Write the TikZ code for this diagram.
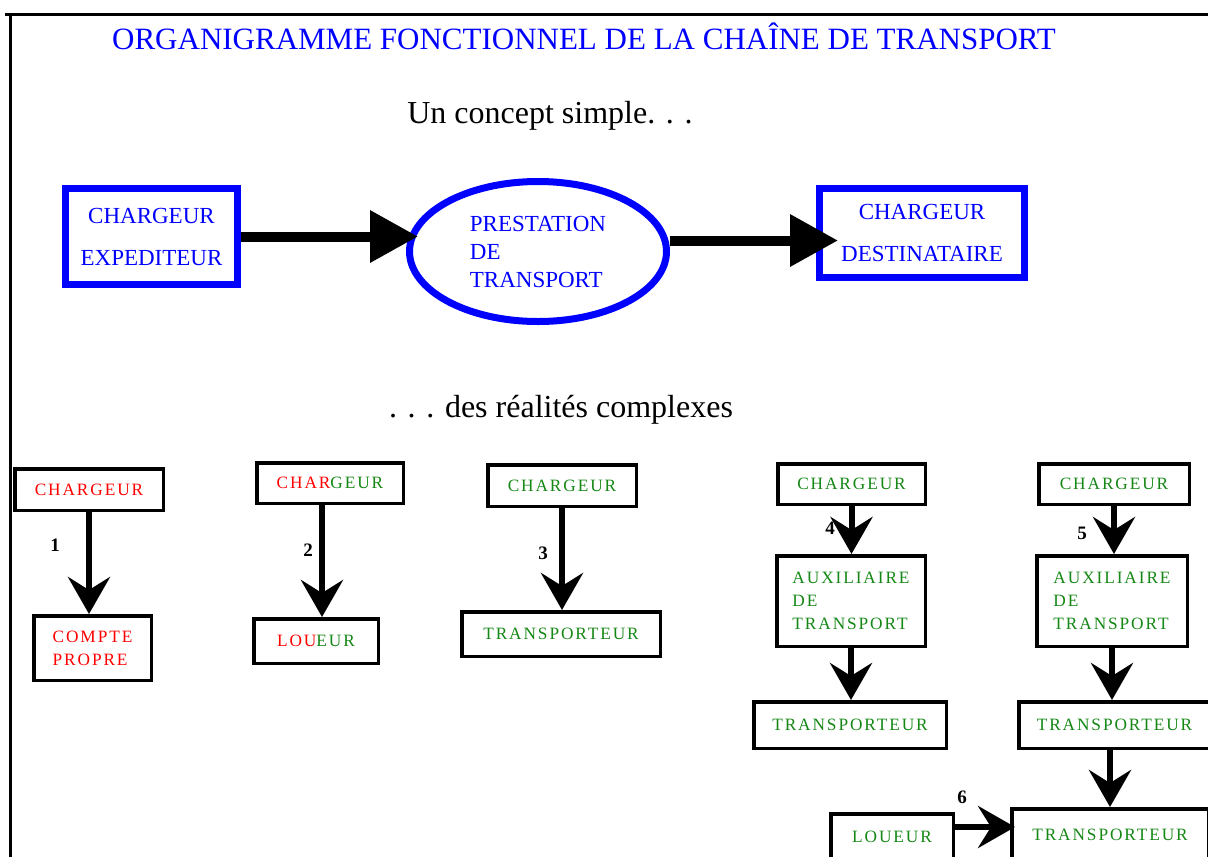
\documentclass[tikz,border=0pt]{standalone}
\usepackage{fontspec}
\setmainfont{Liberation Serif}
\newfontfamily\spacedfont[LetterSpace=11]{Liberation Serif}
\usetikzlibrary{arrows.meta, shapes, positioning}
\definecolor{boxgreen}{RGB}{20,135,20}

\begin{document}
\begin{tikzpicture}[x=1pt, y=-1pt,
	bluebox/.style={draw=blue, line width=7pt, inner sep=0pt, text=blue, align=center, font=\fontsize{23}{42}\selectfont},
	blackbox/.style={draw=black, line width=3.5pt, inner sep=0pt, text=boxgreen, font=\spacedfont\fontsize{17.3}{23}\selectfont},
	bigarrow/.style={line width=10pt, -{Triangle[length=48pt, width=50pt]}},
	downarrow/.style={line width=6pt, -{Stealth[length=37pt, width=42pt, inset=13pt]}},
	numlabel/.style={font=\bfseries\fontsize{19}{19}\selectfont}]
			\useasboundingbox (0,0) rectangle (1208,857);
			
			% Page frame
			\draw[line width=3pt] (5,14) -- (1215,14);
			\draw[line width=3pt] (10,14) -- (10,865);
			
			% Headings
			\node[text=blue, font=\fontsize{31}{31}\selectfont] (titre) at (584,36) {ORGANIGRAMME FONCTIONNEL DE LA CHAÎNE DE TRANSPORT};
			\node[font=\fontsize{32}{32}\selectfont] (simple) at (550,116) {Un concept simple. . .};
			\node[font=\fontsize{32}{32}\selectfont] (complexe) at (561,410) {. . . des réalités complexes};
			
			% The simple concept
			\node[bluebox, minimum width=172pt, minimum height=96pt] (chexp) at (151.5,236.5) {CHARGEUR\\EXPEDITEUR};
			\node[ellipse, draw=blue, line width=7pt, inner sep=0pt, minimum width=257pt, minimum height=140pt,
				text=blue, align=left, font=\fontsize{23}{28}\selectfont] (prest) at (538,251.5) {PRESTATION\\DE\\TRANSPORT};
			\node[bluebox, minimum width=205pt, minimum height=89pt] (chdest) at (922,233) {CHARGEUR\\DESTINATAIRE};
			
			\draw[bigarrow, shorten >=-12pt] (chexp.east) -- (chexp.east -| prest.west);
			\draw[bigarrow, shorten >=-22pt] ([yshift=11pt]prest.east) -- ([yshift=11pt]prest.east -| chdest.west);
			
			% Case 1: own account
			\node[blackbox, text=red, minimum width=148.5pt, minimum height=41.5pt] (chA) at (89,489.5) {CHARGEUR};
			\node[blackbox, text=red, align=left, minimum width=117.5pt, minimum height=64.5pt] (propre) at (92.5,648) {COMPTE\\PROPRE};
			\draw[downarrow] (chA.south) -- (chA.south |- propre.north);
			\node[numlabel] (n1) at (55,545) {1};
			
			% Case 2: renter
			\node[blackbox, minimum width=146.5pt, minimum height=40.5pt] (chB) at (330,483) {{\color{red}CHAR}GEUR};
			\node[blackbox, minimum width=124.5pt, minimum height=44.5pt] (loueurB) at (316,641) {{\color{red}LOU}EUR};
			\draw[downarrow] ([xshift=-8pt]chB.south) -- ([xshift=-8pt]chB.south |- loueurB.north);
			\node[numlabel] (n2) at (308,550) {2};
			
			% Case 3: carrier
			\node[blackbox, minimum width=148.5pt, minimum height=41.5pt] (chC) at (562,485.5) {CHARGEUR};
			\node[blackbox, minimum width=198.5pt, minimum height=44.5pt] (transC) at (561,634) {TRANSPORTEUR};
			\draw[downarrow] (chC.south) -- (chC.south |- transC.north);
			\node[numlabel] (n3) at (543,553) {3};
			
			% Case 4: auxiliary
			\node[blackbox, minimum width=147.5pt, minimum height=40.5pt] (chD) at (851.5,484) {CHARGEUR};
			\node[blackbox, align=left, minimum width=148.5pt, minimum height=90.5pt] (auxD) at (851,601) {AUXILIAIRE\\DE\\TRANSPORT};
			\node[blackbox, minimum width=192.5pt, minimum height=46.5pt] (transD) at (850,725) {TRANSPORTEUR};
			\draw[downarrow] (chD.south) -- (chD.south |- auxD.north);
			\draw[downarrow] (auxD.south) -- (auxD.south |- transD.north);
			\node[numlabel] (n4) at (830,528) {4};
			
			% Case 5: auxiliary and renter
			\node[blackbox, minimum width=150.5pt, minimum height=40.5pt] (chE) at (1114,484) {CHARGEUR};
			\node[blackbox, align=left, minimum width=150.5pt, minimum height=90.5pt] (auxE) at (1112,601) {AUXILIAIRE\\DE\\TRANSPORT};
			\node[blackbox, minimum width=191.5pt, minimum height=46.5pt] (transE) at (1114.5,725) {TRANSPORTEUR};
			\node[blackbox, minimum width=196.5pt, minimum height=51.5pt] (transF) at (1110,834.5) {TRANSPORTEUR};
			\node[blackbox, minimum width=122.5pt, minimum height=46.5pt] (loueurF) at (892,837) {LOUEUR};
			\draw[downarrow] (chE.south) -- (chE.south |- auxE.north);
			\draw[downarrow] (auxE.south) -- (auxE.south |- transE.north);
			\draw[downarrow] (transE.south -| transF.north) -- (transF.north);
			\draw[downarrow, shorten >=-5pt] ([yshift=10pt]loueurF.east) -- ([yshift=10pt]loueurF.east -| transF.west);
			\node[numlabel] (n5) at (1082,533) {5};
			\node[numlabel] (n6) at (962,797) {6};
		\end{tikzpicture}
\end{document}
